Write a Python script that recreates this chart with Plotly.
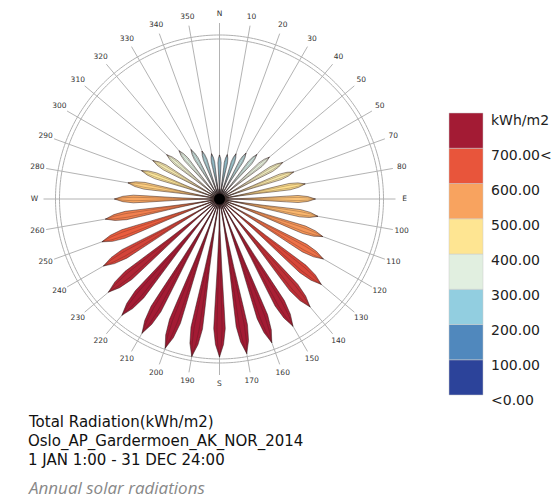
import numpy as np
import plotly.graph_objects as go

# Compass directions of the rose petals (degrees, clockwise from north)
directions = list(range(0, 360, 10))

# Annual total radiation per facing direction (kWh/m2)
radiation = [207, 212, 226, 249, 273, 306, 343, 371, 409, 451,
             470, 517, 564, 625, 663, 691, 719, 738, 743, 752,
             747, 729, 714, 682, 630, 588, 545, 494, 437, 390,
             362, 324, 296, 268, 240, 216]

# Direction labels around the compass ring
dir_labels = ["N", "10", "20", "30", "40", "50", "50", "70", "80", "E",
              "100", "110", "120", "130", "140", "150", "160", "170", "S", "190",
              "200", "210", "220", "230", "240", "250", "260", "W", "280", "290",
              "300", "310", "320", "330", "340", "350"]

# Legend steps (kWh/m2) and their colours, bottom to top
legend_steps = [0, 100, 200, 300, 400, 500, 600, 700]
legend_colors = ["#2c439a", "#5088bd", "#92cee0", "#e1efe0",
                 "#fee592", "#f8a35f", "#e8553b", "#a31b34"]
legend_labels = ["<0.00", "100.00", "200.00", "300.00", "400.00",
                 "500.00", "600.00", "700.00<"]
legend_unit = "kWh/m2"

W, H = 553, 499
CX, CY = 219.5, 199.0          # rose centre in page pixels
PX = 4.7                       # kWh/m2 per pixel of petal length
R_PIX = 195                    # radius of the polar area in pixels
R_MAX = R_PIX * PX
R_OUT, R_IN = 164 * PX, 160 * PX
R_SPOKE, R_LABEL = 176 * PX, 185 * PX


def hex_to_rgb(h):
    h = h.lstrip("#")
    return [int(h[i:i + 2], 16) for i in (0, 2, 4)]


def value_color(v):
    v = min(max(v, legend_steps[0]), legend_steps[-1])
    rgbs = [hex_to_rgb(c) for c in legend_colors]
    for i in range(len(legend_steps) - 1):
        a, b = legend_steps[i], legend_steps[i + 1]
        if v <= b:
            f = (v - a) / (b - a)
            c = [round(rgbs[i][k] + f * (rgbs[i + 1][k] - rgbs[i][k])) for k in range(3)]
            return "rgb({},{},{})".format(*c)
    return legend_colors[-1]


# petal profile: fraction of length -> half opening angle (deg)
prof_t = [0.0, 0.2, 0.45, 0.7, 0.82, 0.92, 1.0]
prof_a = [0.0, 1.0, 1.9, 2.45, 2.55, 1.6, 0.0]


def petal(d, v, scale=1.0):
    rs = [t * v for t in prof_t]
    left = [d - a * scale for a in prof_a]
    right = [d + a * scale for a in prof_a]
    return rs + rs[::-1], left + right[::-1]


fig = go.Figure()

# spokes
sr, st = [], []
for d in directions:
    sr += [0, R_SPOKE, None]
    st += [d, d, None]
fig.add_trace(go.Scatterpolar(r=sr, theta=st, mode="lines",
                              line=dict(color="#a0a0a0", width=0.8),
                              hoverinfo="skip"))

# double outer ring
ring_t = np.arange(0, 361, 1)
for rr in (R_OUT, R_IN):
    fig.add_trace(go.Scatterpolar(r=[rr] * len(ring_t), theta=ring_t, mode="lines",
                                  line=dict(color="#b0b0b0", width=1),
                                  hoverinfo="skip"))

# petals
for d, v in zip(directions, radiation):
    r, t = petal(d, v)
    fig.add_trace(go.Scatterpolar(r=r, theta=t, mode="lines", fill="toself",
                                  fillcolor=value_color(v),
                                  line=dict(color="rgba(50,30,30,0.85)", width=0.6),
                                  hoverinfo="text", text="{}: {}".format(d, v)))
    r2, t2 = petal(d, v, 0.45)
    fig.add_trace(go.Scatterpolar(r=r2, theta=t2, mode="lines",
                                  line=dict(color="rgba(50,25,25,0.5)", width=0.5),
                                  hoverinfo="skip"))

# dark hub where the petals meet
fig.add_trace(go.Scatterpolar(r=[0], theta=[0], mode="markers",
                              marker=dict(size=20, color="rgba(0,0,0,0.22)"),
                              hoverinfo="skip"))
fig.add_trace(go.Scatterpolar(r=[0], theta=[0], mode="markers",
                              marker=dict(size=11, color="black"),
                              hoverinfo="skip"))

# direction labels
fig.add_trace(go.Scatterpolar(r=[R_LABEL] * len(directions), theta=directions,
                              mode="text", text=dir_labels,
                              textfont=dict(family="DejaVu Sans", size=7.5, color="#333"),
                              cliponaxis=False, hoverinfo="skip"))

shapes = []
annotations = []


def px_x(x):
    return x / W


def px_y(y):
    return 1 - y / H


# legend colour boxes
LX0, LX1, LY_TOP, LY_BOT = 449, 483, 113, 395
step_h = (LY_BOT - LY_TOP) / len(legend_colors)
for i, c in enumerate(legend_colors):
    y_bot = LY_BOT - i * step_h
    y_top = y_bot - step_h
    shapes.append(dict(type="rect", xref="paper", yref="paper",
                       x0=px_x(LX0), x1=px_x(LX1), y0=px_y(y_bot), y1=px_y(y_top),
                       fillcolor=c, line=dict(color="#c8c8c8", width=0.5)))

lab_font = dict(family="DejaVu Sans", size=14, color="#222")
annotations.append(dict(x=px_x(489), y=px_y(120), xref="paper", yref="paper",
                        text=legend_unit, showarrow=False, xanchor="left",
                        yanchor="middle", font=lab_font))
for i, lab in enumerate(legend_labels):
    yy = 400 - i * 35.0
    annotations.append(dict(x=px_x(489), y=px_y(yy), xref="paper", yref="paper",
                            text=lab, showarrow=False, xanchor="left",
                            yanchor="middle", font=lab_font))

# caption block
title_font = dict(family="DejaVu Sans", size=15, color="#111")
for txt, yy in (("Total Radiation(kWh/m2)", 422),
                ("Oslo_AP_Gardermoen_AK_NOR_2014", 441),
                ("1 JAN 1:00 - 31 DEC 24:00", 460)):
    annotations.append(dict(x=px_x(26), y=px_y(yy), xref="paper", yref="paper",
                            text=txt, showarrow=False, xanchor="left",
                            yanchor="middle", font=title_font))
annotations.append(dict(x=px_x(26), y=px_y(487), xref="paper", yref="paper",
                        text="<i>Annual solar radiations</i>", showarrow=False,
                        xanchor="left", yanchor="middle",
                        font=dict(family="Open Sans", size=17, color="#888")))

fig.update_layout(
    width=W, height=H,
    margin=dict(l=0, r=0, t=0, b=0),
    paper_bgcolor="white",
    showlegend=False,
    polar=dict(
        domain=dict(x=[(CX - R_PIX) / W, (CX + R_PIX) / W],
                    y=[(H - CY - R_PIX) / H, (H - CY + R_PIX) / H]),
        bgcolor="white",
        radialaxis=dict(visible=False, range=[0, R_MAX]),
        angularaxis=dict(visible=False, rotation=90, direction="clockwise"),
    ),
    shapes=shapes,
    annotations=annotations,
)

fig.write_html("out.html")
